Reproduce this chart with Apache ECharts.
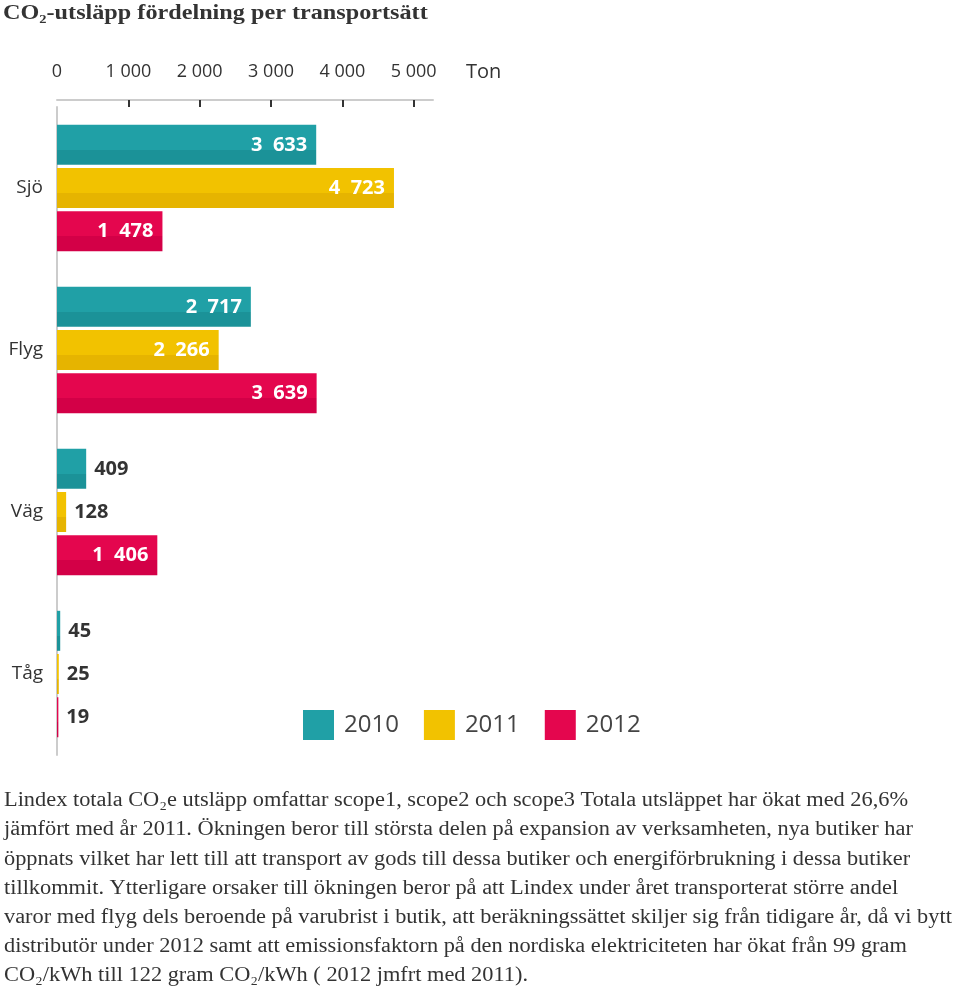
<!DOCTYPE html>
<html>
<head>
<meta charset="utf-8">
<script src="https://cdn.jsdelivr.net/npm/echarts@6/dist/echarts.min.js"></script>
<style>html,body{margin:0;padding:0;background:#fff}#c{width:960px;height:991px}</style>
</head>
<body>
<div id="c"></div>
<script>
const categories = ['Sjö', 'Flyg', 'Väg', 'Tåg'];
const years = ['2010', '2011', '2012'];
const v2010 = [3633, 2717, 409, 45];
const v2011 = [4723, 2266, 128, 25];
const v2012 = [1478, 3639, 1406, 19];
const tickValues = [0, 1000, 2000, 3000, 4000, 5000];
const titleText = 'CO₂-utsläpp fördelning per transportsätt';
const paragraph = [
  'Lindex totala CO₂e utsläpp omfattar scope1, scope2 och scope3 Totala utsläppet har ökat med 26,6%',
  'jämfört med år 2011. Ökningen beror till största delen på expansion av verksamheten, nya butiker har',
  'öppnats vilket har lett till att transport av gods till dessa butiker och energiförbrukning i dessa butiker',
  'tillkommit. Ytterligare orsaker till ökningen beror på att Lindex under året transporterat större andel',
  'varor med flyg dels beroende på varubrist i butik, att beräkningssättet skiljer sig från tidigare år, då vi bytt',
  'distributör under 2012 samt att emissionsfaktorn på den nordiska elektriciteten har ökat från 99 gram',
  'CO₂/kWh till 122 gram CO₂/kWh ( 2012 jmfrt med 2011).'
];

const colors = [['#20a0a6', '#1b9298'], ['#f2c200', '#e6b400'], ['#e4064e', '#d30047']];
const solid = ['#20a0a6', '#f2c200', '#e4064e'];
const sans = 'Open Sans';

function fmt(v) {
  return String(v).replace(/\B(?=(\d{3})+(?!\d))/g, ' ');
}

function buildData(values) {
  return values.map(v => {
    const inside = v >= 1000;
    return {
      value: v,
      label: inside
        ? { position: 'insideRight', distance: 9, color: '#fff' }
        : { position: 'right', distance: 8, color: '#333' }
    };
  });
}

const seriesVals = [v2010, v2011, v2012];
const chart = echarts.init(document.getElementById('c'));

const graphics = paragraph.map((line, i) => ({
  type: 'text',
  x: 4,
  y: 801 + i * 29.2,
  scaleX: 1.118,
  style: {
    text: line,
    font: '20px "Liberation Serif"',
    fill: '#333',
    verticalAlign: 'middle'
  }
}));
graphics.push({
  type: 'text',
  x: 3,
  y: 13,
  scaleX: 1.1,
  style: {
    text: titleText,
    font: 'bold 22px "Liberation Serif"',
    fill: '#333',
    verticalAlign: 'middle'
  }
});

chart.setOption({
  animation: false,
  legend: {
    data: years.map((y, i) => ({ name: y, itemStyle: { color: solid[i] } })),
    left: 303,
    top: 710,
    padding: 0,
    icon: 'rect',
    itemWidth: 31,
    itemHeight: 30,
    itemGap: 25,
    textStyle: { fontFamily: sans, fontSize: 24, color: '#444', padding: [0, 0, 0, 5] }
  },
  grid: { left: 57, right: 527, top: 107, height: 648, containLabel: false },
  xAxis: {
    type: 'value',
    position: 'top',
    offset: 7,
    min: 0,
    max: 5270,
    name: 'Ton',
    nameLocation: 'end',
    nameGap: 33,
    nameTextStyle: { fontFamily: sans, fontSize: 20, color: '#333', verticalAlign: 'bottom', lineHeight: 22, padding: [0, 0, 17, 0] },
    axisLine: { show: true, lineStyle: { color: '#ccc', width: 2 } },
    axisTick: { show: true, inside: true, length: 7, lineStyle: { color: '#333', width: 2 }, customValues: tickValues.slice(1) },
    axisLabel: { customValues: tickValues, formatter: v => fmt(v), fontFamily: sans, fontSize: 18, color: '#333', margin: 19 },
    splitLine: { show: false }
  },
  yAxis: {
    type: 'category',
    data: categories,
    inverse: true,
    axisLine: { show: true, lineStyle: { color: '#ccc', width: 2 } },
    axisTick: { show: false },
    axisLabel: { fontFamily: sans, fontSize: 19, color: '#333', margin: 14 }
  },
  series: years.map((y, i) => ({
    type: 'bar',
    name: y,
    data: buildData(seriesVals[i]),
    barWidth: 40,
    barGap: '8%',
    itemStyle: {
      color: new echarts.graphic.LinearGradient(0, 0, 0, 1, [
        { offset: 0, color: colors[i][0] },
        { offset: 0.62, color: colors[i][0] },
        { offset: 0.62, color: colors[i][1] },
        { offset: 1, color: colors[i][1] }
      ])
    },
    label: {
      show: true,
      fontFamily: sans,
      fontWeight: 'bold',
      fontSize: 20,
      formatter: p => fmt(p.value).replace(' ', '  ')
    }
  })),
  graphic: graphics
});
</script>
</body>
</html>
